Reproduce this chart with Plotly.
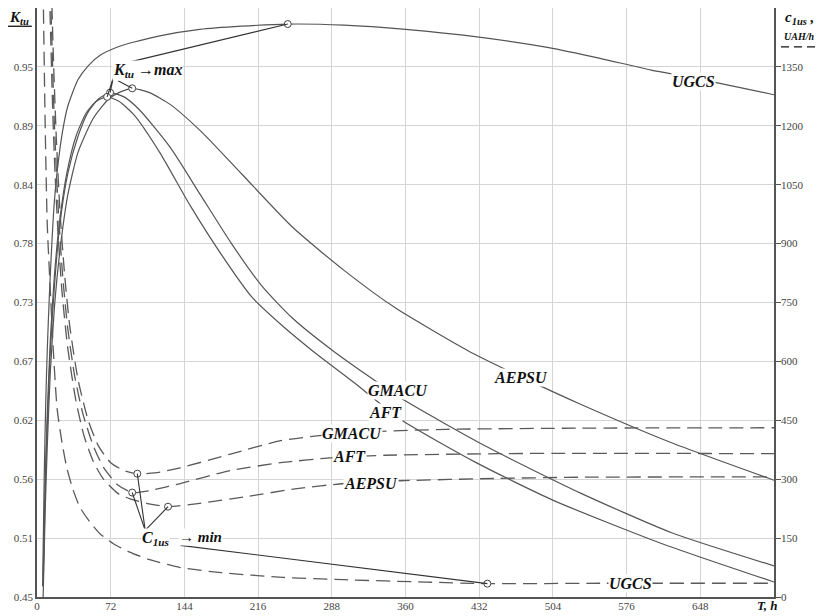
import plotly.graph_objects as go

# ---------------- data ----------------
# Ktu (left axis, solid lines)
T_ugcs_k = [5.5, 7, 8.5, 10, 12, 14.5, 17, 20, 25, 30, 40, 50, 62, 80, 94, 120, 159, 200, 245,
            300, 360, 430, 500, 550, 600, 640, 680, 720]
K_ugcs = [0.46, 0.56, 0.63, 0.68, 0.73, 0.78, 0.82, 0.85, 0.885, 0.908, 0.933, 0.946, 0.956, 0.964,
          0.968, 0.974, 0.980, 0.983, 0.985, 0.984, 0.980, 0.973, 0.963, 0.953, 0.942, 0.935, 0.927, 0.919]

T_gmacu_k = [6, 8, 10, 13, 17, 22, 30, 40, 50, 60, 71.4, 85, 100, 130, 160, 190, 220, 250, 289,
             355, 440, 531, 620, 720]
K_gmacu = [0.46, 0.55, 0.61, 0.68, 0.74, 0.795, 0.845, 0.88, 0.903, 0.915, 0.921, 0.917, 0.905, 0.87,
           0.825, 0.78, 0.74, 0.71, 0.68, 0.636, 0.59, 0.547, 0.51, 0.479]

T_aft_k = [6, 8, 10, 13, 17, 22, 29, 38, 48, 58, 68.5, 80, 95, 120, 150, 180, 210, 240, 269, 310,
           355, 430, 505, 610, 720]
K_aft = [0.47, 0.56, 0.62, 0.69, 0.75, 0.80, 0.845, 0.88, 0.902, 0.913, 0.917, 0.913, 0.90, 0.865,
         0.815, 0.77, 0.73, 0.703, 0.68, 0.65, 0.616, 0.575, 0.54, 0.50, 0.464]

T_aepsu_k = [6, 8, 10, 13, 17, 22, 30, 40, 55, 70, 80, 93, 110, 130, 160, 200, 250, 300, 350, 421,
             472, 531, 620, 720]
K_aepsu = [0.45, 0.53, 0.59, 0.66, 0.72, 0.77, 0.825, 0.865, 0.897, 0.915, 0.921, 0.925, 0.921, 0.91,
           0.885, 0.845, 0.795, 0.755, 0.72, 0.68, 0.656, 0.63, 0.594, 0.559]

# C1us (right axis, dashed lines), UAH/h
T_ugcs_c = [6, 8, 10, 13, 16, 19.6, 24, 29, 35, 42, 52, 62, 75, 90, 110, 140, 180, 240, 300, 380,
            440, 550, 720]
C_ugcs = [1550, 1200, 950, 780, 625, 481, 400, 330, 275, 228, 190, 160, 135, 115, 95, 75, 62, 50, 44,
          38, 34, 35, 35]

T_gmacu_c = [14, 16, 19, 22.5, 27, 32, 40, 50, 60, 72, 85, 98, 115, 140, 189, 238, 280, 330, 400, 531, 720]
C_gmacu = [1560, 1375, 1160, 980, 820, 690, 555, 450, 385, 342, 322, 314, 316, 329, 364, 398, 412,
           421, 427, 430, 431]

T_aft_c = [12.5, 14, 17, 20.5, 25, 30, 37, 45, 55, 65, 79, 93, 110, 140, 189, 238, 290, 340, 450, 531, 720]
C_aft = [1600, 1465, 1205, 1000, 820, 685, 560, 465, 385, 330, 285, 266, 271, 289, 322, 342, 355,
         361, 365, 366, 365]

T_aepsu_c = [11.5, 13, 15.5, 17.6, 21, 24.5, 30, 38, 46, 55, 65, 80, 91, 108, 128, 157, 205, 254, 300,
             355, 450, 531, 720]
C_aepsu = [1600, 1460, 1225, 1080, 905, 775, 635, 500, 410, 345, 300, 262, 250, 238, 230, 238, 256,
           276, 289, 296, 302, 305, 306]

x_ticks = [0, 72, 144, 216, 288, 360, 432, 504, 576, 648]
k_ticks = [0.45 + 0.055 * i for i in range(10)]
k_ticktext = ["0.45", "0.51", "0.56", "0.62", "0.67", "0.73", "0.78", "0.84", "0.89", "0.95"]
c_ticks = [0, 150, 300, 450, 600, 750, 900, 1050, 1200, 1350]

# ---------------- figure ----------------
SOLID = "#555555"
DASHC = "#5a5a5a"
DASH = "14px,7px"
FONT = "Liberation Serif"

fig = go.Figure()

solid_series = [(T_ugcs_k, K_ugcs), (T_gmacu_k, K_gmacu), (T_aft_k, K_aft), (T_aepsu_k, K_aepsu)]
dashed_series = [(T_ugcs_c, C_ugcs), (T_gmacu_c, C_gmacu), (T_aft_c, C_aft), (T_aepsu_c, C_aepsu)]

for T, K in solid_series:
    fig.add_trace(go.Scatter(x=T, y=K, mode="lines", yaxis="y",
                             line=dict(color=SOLID, width=1.2, shape="spline", smoothing=0.6),
                             hoverinfo="skip", showlegend=False))
for T, C in dashed_series:
    fig.add_trace(go.Scatter(x=T, y=C, mode="lines", yaxis="y2",
                             line=dict(color=DASHC, width=1.3, dash=DASH, shape="spline", smoothing=0.6),
                             hoverinfo="skip", showlegend=False))

# extremum points
kmax = []
for T, K in solid_series:
    i = K.index(max(K))
    kmax.append((T[i], K[i]))
cmin = []
for T, C in dashed_series:
    i = C.index(min(C))
    cmin.append((T[i], C[i]))

shapes = []
def seg(x0, y0, x1, y1, yref="y"):
    shapes.append(dict(type="line", xref="x", yref=yref, x0=x0, y0=y0, x1=x1, y1=y1,
                       line=dict(color="#333333", width=1.1), layer="above"))

seg(88, 0.949, kmax[0][0], kmax[0][1])
seg(74.3, 0.934, kmax[1][0], kmax[1][1])
seg(74.3, 0.934, kmax[2][0], kmax[2][1])
seg(79.2, 0.932, kmax[3][0], kmax[3][1])
for j in (1, 2, 3):
    seg(105.7, 169.5, cmin[j][0], cmin[j][1], "y2")
seg(140, 131.5, cmin[0][0], cmin[0][1], "y2")

mk = dict(symbol="circle", size=7, color="white", line=dict(color="#444", width=1))
fig.add_trace(go.Scatter(x=[p[0] for p in kmax], y=[p[1] for p in kmax], mode="markers", yaxis="y",
                         marker=mk, hoverinfo="skip", showlegend=False))
fig.add_trace(go.Scatter(x=[p[0] for p in cmin], y=[p[1] for p in cmin], mode="markers", yaxis="y2",
                         marker=mk, hoverinfo="skip", showlegend=False))

ann = []
def lab(text, x, y, yref="y", size=16, bg="white", xref="x", yanchor="middle"):
    d = dict(text="<b><i>" + text + "</i></b>", x=x, y=y, xref=xref, yref=yref, showarrow=False,
             font=dict(family=FONT, size=size, color="#111"), borderpad=0,
             xanchor="center", yanchor=yanchor)
    if bg:
        d["bgcolor"] = bg
    ann.append(d)

lab("UGCS", 641, 0.931)
lab("GMACU", 353, 0.643)
lab("AFT", 340, 0.6225)
lab("AEPSU", 472.5, 0.655)
lab("GMACU", 308, 417, "y2")
lab("AFT", 305, 357, "y2")
lab("AEPSU", 326, 288, "y2")
lab("UGCS", 580, 35, "y2")
lab("K<sub>tu</sub> →max", 107.6, 0.9416)
lab("C<sub>1us</sub>", 115.4, 149, "y2")
lab("→ min", 160, 152, "y2", size=15)

# axis titles (paper coords; plot area is 736 x 589 px)
lab("K<sub>tu</sub>", -0.0245, 1.0, "paper", size=15, bg=None, xref="paper", yanchor="top")
lab("c<sub>1us</sub> ,", 1.034, 1.0, "paper", size=15, bg=None, xref="paper", yanchor="top")
lab("UAH/h", 1.034, 0.951, "paper", size=10, bg=None, xref="paper")
lab("T, h", 0.99, -0.0136, "paper", size=13, bg=None, xref="paper")

shapes.append(dict(type="line", xref="paper", yref="paper", x0=-0.041, x1=-0.007, y0=0.969, y1=0.969,
                   line=dict(color="#111", width=1.3)))
shapes.append(dict(type="line", xref="paper", yref="paper", x0=1.0095, x1=1.064, y0=0.934, y1=0.934,
                   line=dict(color="#111", width=1.2, dash="8px,5px")))

axis_font = dict(family=FONT, size=11, color="#444")
# the page body adds an 8px margin, so the figure is 8px smaller and margins are shifted
fig.update_layout(
    template="none",
    width=817, height=608,
    margin=dict(l=29, r=51, t=0, b=19, autoexpand=False),
    paper_bgcolor="white", plot_bgcolor="white",
    shapes=shapes, annotations=ann,
    xaxis=dict(range=[0, 720], tickvals=x_ticks, showgrid=True, gridcolor="#d4d4d4", gridwidth=1,
               showline=True, linecolor="#555", linewidth=1.5, mirror=True, ticks="", zeroline=False,
               tickfont=axis_font, automargin=False, ticklabelstandoff=-2),
    yaxis=dict(range=[0.45, 1.0], tickvals=k_ticks, ticktext=k_ticktext, showgrid=True,
               gridcolor="#d4d4d4", gridwidth=1, showline=True, linecolor="#555", linewidth=1.5,
               mirror=False, ticks="", zeroline=False, tickfont=axis_font, automargin=False),
    yaxis2=dict(range=[0, 1500], tickvals=c_ticks, overlaying="y", side="right", showgrid=False,
                showline=True, linecolor="#555", linewidth=1.5, ticks="outside", ticklen=5,
                tickcolor="#555", zeroline=False, tickfont=axis_font, automargin=False,
                ticklabelstandoff=-2),
)

fig.write_html("out.html")
